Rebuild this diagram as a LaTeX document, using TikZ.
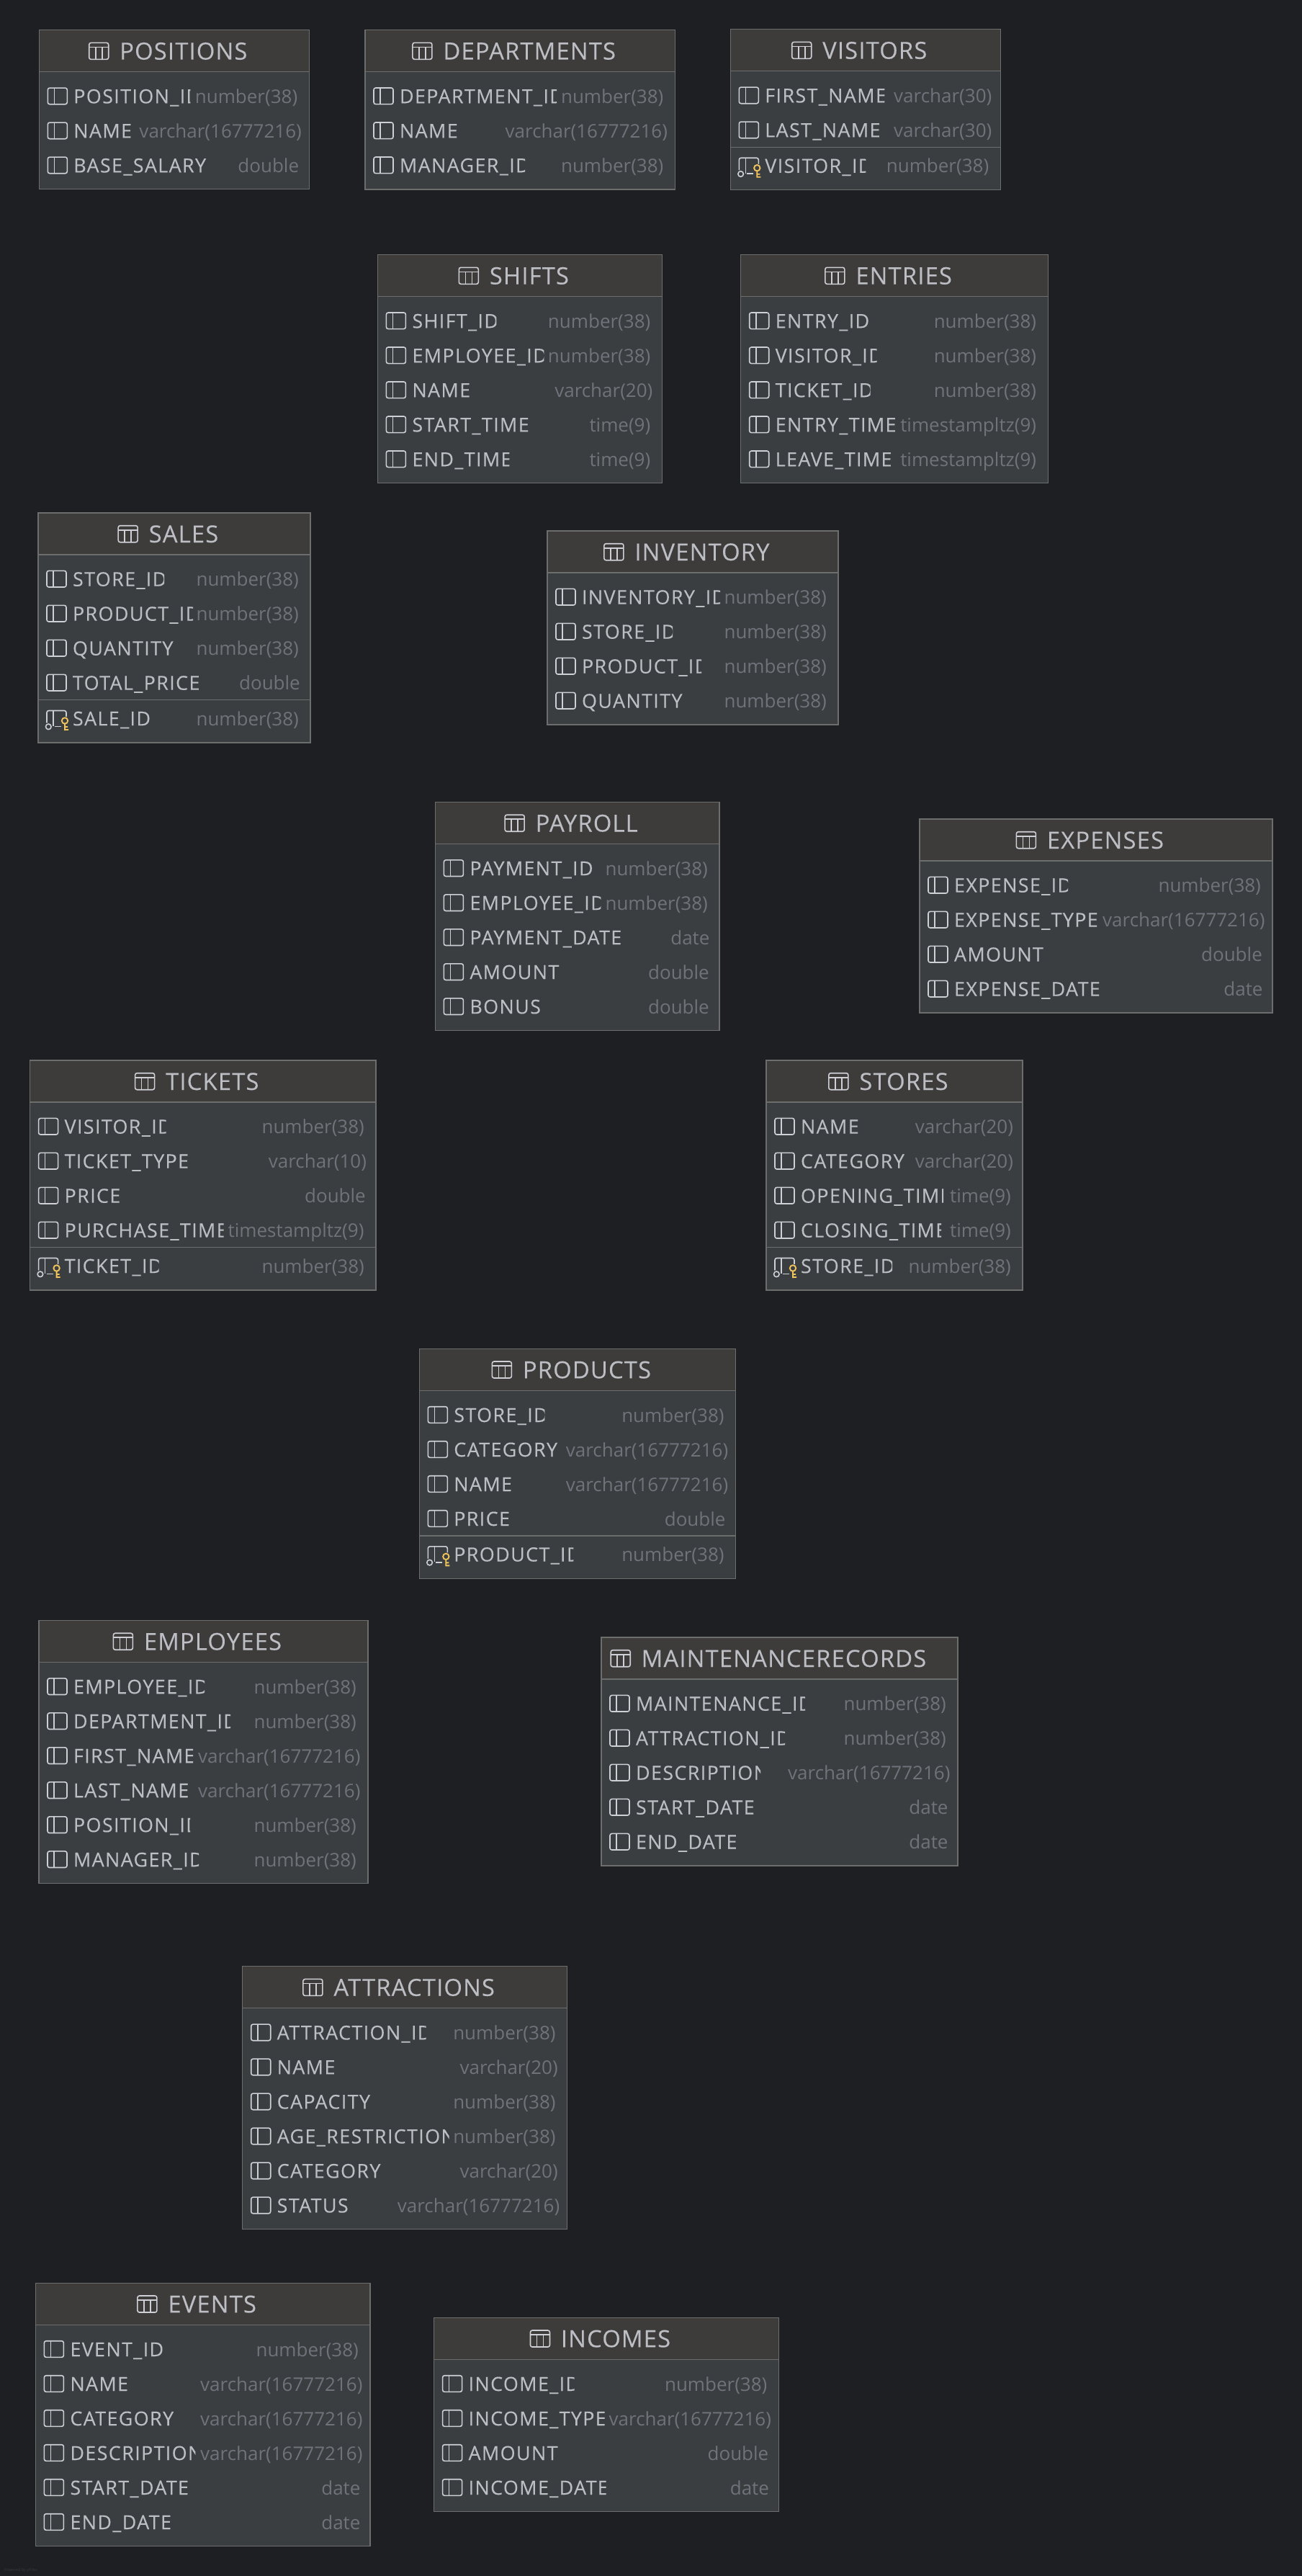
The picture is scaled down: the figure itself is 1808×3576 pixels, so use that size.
\documentclass[tikz,border=0pt]{standalone}
\usepackage{fontspec}
\setmainfont{Open Sans}
\newfontfamily\dbfont[LetterSpace=5,FakeBold=0.15]{Open Sans}
\newfontfamily\dbtitlefont[LetterSpace=3.5,FakeBold=0.1]{Open Sans}
\renewcommand{\_}{\kern1pt\textunderscore\kern1pt}

\definecolor{dbback}{HTML}{1E1F22}
\definecolor{dbhead}{HTML}{3D3C3B}
\definecolor{dbbody}{HTML}{3B3E41}
\definecolor{dbedge}{HTML}{6C6D6D}
\definecolor{dbtext}{HTML}{BCBEC4}
\definecolor{dbgrey}{HTML}{6F737A}
\definecolor{dbline}{HTML}{CED0D6}
\definecolor{dbkey}{HTML}{F2C55C}
\definecolor{dbfoot}{HTML}{36383C}

\tikzset{every picture/.style={line width=0.75pt},
  dbedge/.style={draw=dbedge,line width=1.1pt},
  dbicon/.style={draw=dbline,line width=1.2pt},
  dbtitle/.style={inner sep=0pt,text=dbtext,font=\dbtitlefont\fontsize{24.6}{30}\selectfont},
  dbname/.style={inner sep=0pt,text=dbtext,font=\dbfont\fontsize{20.2}{25}\selectfont},
  dbtype/.style={inner sep=0pt,text=dbgrey,font=\fontsize{19.5}{24}\selectfont},
  dbfooter/.style={inner sep=0pt,text=dbfoot,font=\fontsize{4.2}{5}\selectfont}}

%Table frame: [shift of title]{name}{left}{top}{right}{bottom}
\newcommand{\dbtable}[6][13]{%
  \def\tblname{#2}\def\tblx{#3}\def\tbly{#4}\def\tblr{#5}%
  \fill[dbbody] (#3,#4) rectangle (#5,#6);
  \fill[dbhead] (#3,#4) rectangle (#5,#4+58);
  \draw[dbedge] (#3,#4) rectangle (#5,#6);
  \draw[dbedge] (#3,#4+58) -- (#5,#4+58);
  \node[dbtitle,anchor=base] (#2-title) at ({(#3+#5)/2+#1},#4+41) {#2};
  \coordinate (#2-icon) at (#2-title.west |- 0,#4+17.7);
  \begin{scope}[shift={(#2-icon)},xshift=-31.5pt]
    \draw[dbicon,rounded corners=2pt] (0,0) rectangle (27,23);
    \draw[dbicon] (0,6) -- (27,6) (9,6) -- (9,23) (18,6) -- (18,23);
  \end{scope}
}

%Row text: {row}{baseline}{column}{visible width}{type}{inset of type}
\newcommand{\dbtexts}[6]{%
  \begin{scope}
    \clip (\tblx+46,#2-26) rectangle ++(#4+3,36);
    \node[dbname,anchor=base west] (\tblname-#1) at (\tblx+47.5,#2) {#3};
  \end{scope}
  \node[dbtype,anchor=base east] (\tblname-#1-type) at (\tblr-#6,#2) {#5};
}

%Plain column
\newcommand{\dbcol}[5]{%
  \pgfmathsetmacro{\rowy}{\tbly+101.7+48*(#1-1)}
  \begin{scope}[shift={(\tblx+12,\rowy-21.3)}]
    \draw[dbicon,rounded corners=2pt] (0,0) rectangle (27,22.6);
    \draw[dbicon] (9,0) -- (9,22.6);
  \end{scope}
  \dbtexts{#1}{\rowy}{#2}{#3}{#4}{#5}
}

%Key column, below a line
\newcommand{\dbpk}[5]{%
  \pgfmathsetmacro{\rowy}{\tbly+103.2+48*(#1-1)}
  \draw[dbedge] (\tblx,\rowy-35.5) -- (\tblr,\rowy-35.5);
  \begin{scope}[shift={(\tblx+12,\rowy-20.7)}]
    \draw[dbicon,line cap=round,rounded corners=2pt] (0,16.5) -- (0,0) -- (27,0) -- (27,8);
    \draw[dbicon] (9,0) -- (9,21.5) (11,22) -- (20,22);
    \draw[dbicon] (2.3,22.3) circle [radius=3.8];
    \draw[draw=dbkey,line width=1.4pt] (25,14) circle [radius=4.2] (25,18.2) -- (25,27.5) (25,26.5) -- (30,26.5) (25,22.5) -- (29,22.5);
  \end{scope}
  \dbtexts{#1}{\rowy}{#2}{#3}{#4}{#5}
}

\begin{document}
\begin{tikzpicture}[x=0.75pt,y=0.75pt,yscale=-1,xscale=1]
\useasboundingbox (0,0) rectangle (1808,3576);
\fill[dbback] (0,0) rectangle (1808,3576);

%Table: POSITIONS
\dbtable{POSITIONS}{54.3}{41.7}{429.3}{262.7}
\dbcol{1}{POSITION\_ID}{161}{number(38)}{15.6}
\dbcol{2}{NAME}{84}{varchar(16777216)}{10}
\dbcol{3}{BASE\_SALARY}{183}{double}{13.7}

%Table: DEPARTMENTS
\dbtable{DEPARTMENTS}{507}{41.6}{937.5}{262.8}
\dbcol{1}{DEPARTMENT\_ID}{217}{number(38)}{15.6}
\dbcol{2}{NAME}{84}{varchar(16777216)}{10}
\dbcol{3}{MANAGER\_ID}{173}{number(38)}{15.6}

%Table: VISITORS
\dbtable{VISITORS}{1014.3}{40.7}{1389.3}{263.3}
\dbcol{1}{FIRST\_NAME}{165}{varchar(30)}{11.5}
\dbcol{2}{LAST\_NAME}{159}{varchar(30)}{11.5}
\dbpk{3}{VISITOR\_ID}{139}{number(38)}{15.6}

%Table: SHIFTS
\dbtable{SHIFTS}{524.4}{353.6}{919.4}{670.6}
\dbcol{1}{SHIFT\_ID}{116}{number(38)}{15.6}
\dbcol{2}{EMPLOYEE\_ID}{182}{number(38)}{15.6}
\dbcol{3}{NAME}{84}{varchar(20)}{12.5}
\dbcol{4}{START\_TIME}{162}{time(9)}{15.6}
\dbcol{5}{END\_TIME}{134}{time(9)}{15.6}

%Table: ENTRIES
\dbtable{ENTRIES}{1028.7}{353.6}{1455.6}{670.6}
\dbcol{1}{ENTRY\_ID}{128}{number(38)}{16}
\dbcol{2}{VISITOR\_ID}{140}{number(38)}{16}
\dbcol{3}{TICKET\_ID}{131}{number(38)}{16}
\dbcol{4}{ENTRY\_TIME}{166}{timestampltz(9)}{16}
\dbcol{5}{LEAVE\_TIME}{162}{timestampltz(9)}{16}

%Table: SALES
\dbtable{SALES}{53}{712}{431}{1031}
\dbcol{1}{STORE\_ID}{126}{number(38)}{15.6}
\dbcol{2}{PRODUCT\_ID}{166}{number(38)}{15.6}
\dbcol{3}{QUANTITY}{146}{number(38)}{15.6}
\dbcol{4}{TOTAL\_PRICE}{175}{double}{13.7}
\dbpk{5}{SALE\_ID}{106}{number(38)}{15.6}

%Table: INVENTORY
\dbtable{INVENTORY}{760}{737}{1164}{1006}
\dbcol{1}{INVENTORY\_ID}{191}{number(38)}{15.6}
\dbcol{2}{STORE\_ID}{125}{number(38)}{15.6}
\dbcol{3}{PRODUCT\_ID}{165}{number(38)}{15.6}
\dbcol{4}{QUANTITY}{146}{number(38)}{15.6}

%Table: PAYROLL
\dbtable{PAYROLL}{604.4}{1113.5}{999}{1430.5}
\dbcol{1}{PAYMENT\_ID}{169}{number(38)}{15.6}
\dbcol{2}{EMPLOYEE\_ID}{181}{number(38)}{15.6}
\dbcol{3}{PAYMENT\_DATE}{213}{date}{13}
\dbcol{4}{AMOUNT}{126}{double}{13.7}
\dbcol{5}{BONUS}{102}{double}{13.7}

%Table: EXPENSES
\dbtable{EXPENSES}{1277}{1137}{1767}{1406}
\dbcol{1}{EXPENSE\_ID}{157}{number(38)}{15.6}
\dbcol{2}{EXPENSE\_TYPE}{200}{varchar(16777216)}{10}
\dbcol{3}{AMOUNT}{126}{double}{13.7}
\dbcol{4}{EXPENSE\_DATE}{201}{date}{13}

%Table: TICKETS
\dbtable{TICKETS}{41.6}{1472}{522}{1791}
\dbcol{1}{VISITOR\_ID}{140}{number(38)}{15.6}
\dbcol{2}{TICKET\_TYPE}{172}{varchar(10)}{12.5}
\dbcol{3}{PRICE}{84}{double}{13.7}
\dbcol{4}{PURCHASE\_TIME}{220}{timestampltz(9)}{16}
\dbpk{5}{TICKET\_ID}{130}{number(38)}{15.6}

%Table: STORES
\dbtable{STORES}{1064}{1472}{1420}{1791}
\dbcol{1}{NAME}{84}{varchar(20)}{12.5}
\dbcol{2}{CATEGORY}{152}{varchar(20)}{12.5}
\dbcol{3}{OPENING\_TIME}{197}{time(9)}{15.6}
\dbcol{4}{CLOSING\_TIME}{194}{time(9)}{15.6}
\dbpk{5}{STORE\_ID}{126}{number(38)}{15.6}

%Table: PRODUCTS
\dbtable{PRODUCTS}{582.3}{1872.3}{1021.7}{2191.3}
\dbcol{1}{STORE\_ID}{125}{number(38)}{15.6}
\dbcol{2}{CATEGORY}{152}{varchar(16777216)}{10}
\dbcol{3}{NAME}{84}{varchar(16777216)}{10}
\dbcol{4}{PRICE}{84}{double}{13.7}
\dbpk{5}{PRODUCT\_ID}{165}{number(38)}{15.6}

%Table: EMPLOYEES
\dbtable{EMPLOYEES}{54}{2249.5}{511}{2614.5}
\dbcol{1}{EMPLOYEE\_ID}{181}{number(38)}{15.6}
\dbcol{2}{DEPARTMENT\_ID}{217}{number(38)}{15.6}
\dbcol{3}{FIRST\_NAME}{165}{varchar(16777216)}{10}
\dbcol{4}{LAST\_NAME}{160}{varchar(16777216)}{10}
\dbcol{5}{POSITION\_ID}{161}{number(38)}{15.6}
\dbcol{6}{MANAGER\_ID}{173}{number(38)}{15.6}

%Table: MAINTENANCERECORDS
\dbtable[6]{MAINTENANCERECORDS}{835}{2273}{1330}{2590}
\dbcol{1}{MAINTENANCE\_ID}{234}{number(38)}{15.6}
\dbcol{2}{ATTRACTION\_ID}{206}{number(38)}{15.6}
\dbcol{3}{DESCRIPTION}{172}{varchar(16777216)}{10}
\dbcol{4}{START\_DATE}{167}{date}{13}
\dbcol{5}{END\_DATE}{139}{date}{13}

%Table: ATTRACTIONS
\dbtable{ATTRACTIONS}{336.7}{2729.7}{787.7}{3094.3}
\dbcol{1}{ATTRACTION\_ID}{206}{number(38)}{15.6}
\dbcol{2}{NAME}{84}{varchar(20)}{12.5}
\dbcol{3}{CAPACITY}{133}{number(38)}{15.6}
\dbcol{4}{AGE\_RESTRICTION}{238}{number(38)}{15.6}
\dbcol{5}{CATEGORY}{147}{varchar(20)}{12.5}
\dbcol{6}{STATUS}{114}{varchar(16777216)}{10}

%Table: EVENTS
\dbtable{EVENTS}{49.4}{3169.3}{514}{3534.3}
\dbcol{1}{EVENT\_ID}{127}{number(38)}{15.6}
\dbcol{2}{NAME}{84}{varchar(16777216)}{10}
\dbcol{3}{CATEGORY}{147}{varchar(16777216)}{10}
\dbcol{4}{DESCRIPTION}{173}{varchar(16777216)}{10}
\dbcol{5}{START\_DATE}{166}{date}{13}
\dbcol{6}{END\_DATE}{139}{date}{13}

%Table: INCOMES
\dbtable{INCOMES}{602.6}{3217.3}{1081.5}{3486.3}
\dbcol{1}{INCOME\_ID}{146}{number(38)}{15.6}
\dbcol{2}{INCOME\_TYPE}{188}{varchar(16777216)}{10}
\dbcol{3}{AMOUNT}{126}{double}{13.7}
\dbcol{4}{INCOME\_DATE}{190}{date}{13}

% Text Node
\node[dbfooter,anchor=west] (footer) at (5,3568) {Powered by yFiles};

\end{tikzpicture}
\end{document}
